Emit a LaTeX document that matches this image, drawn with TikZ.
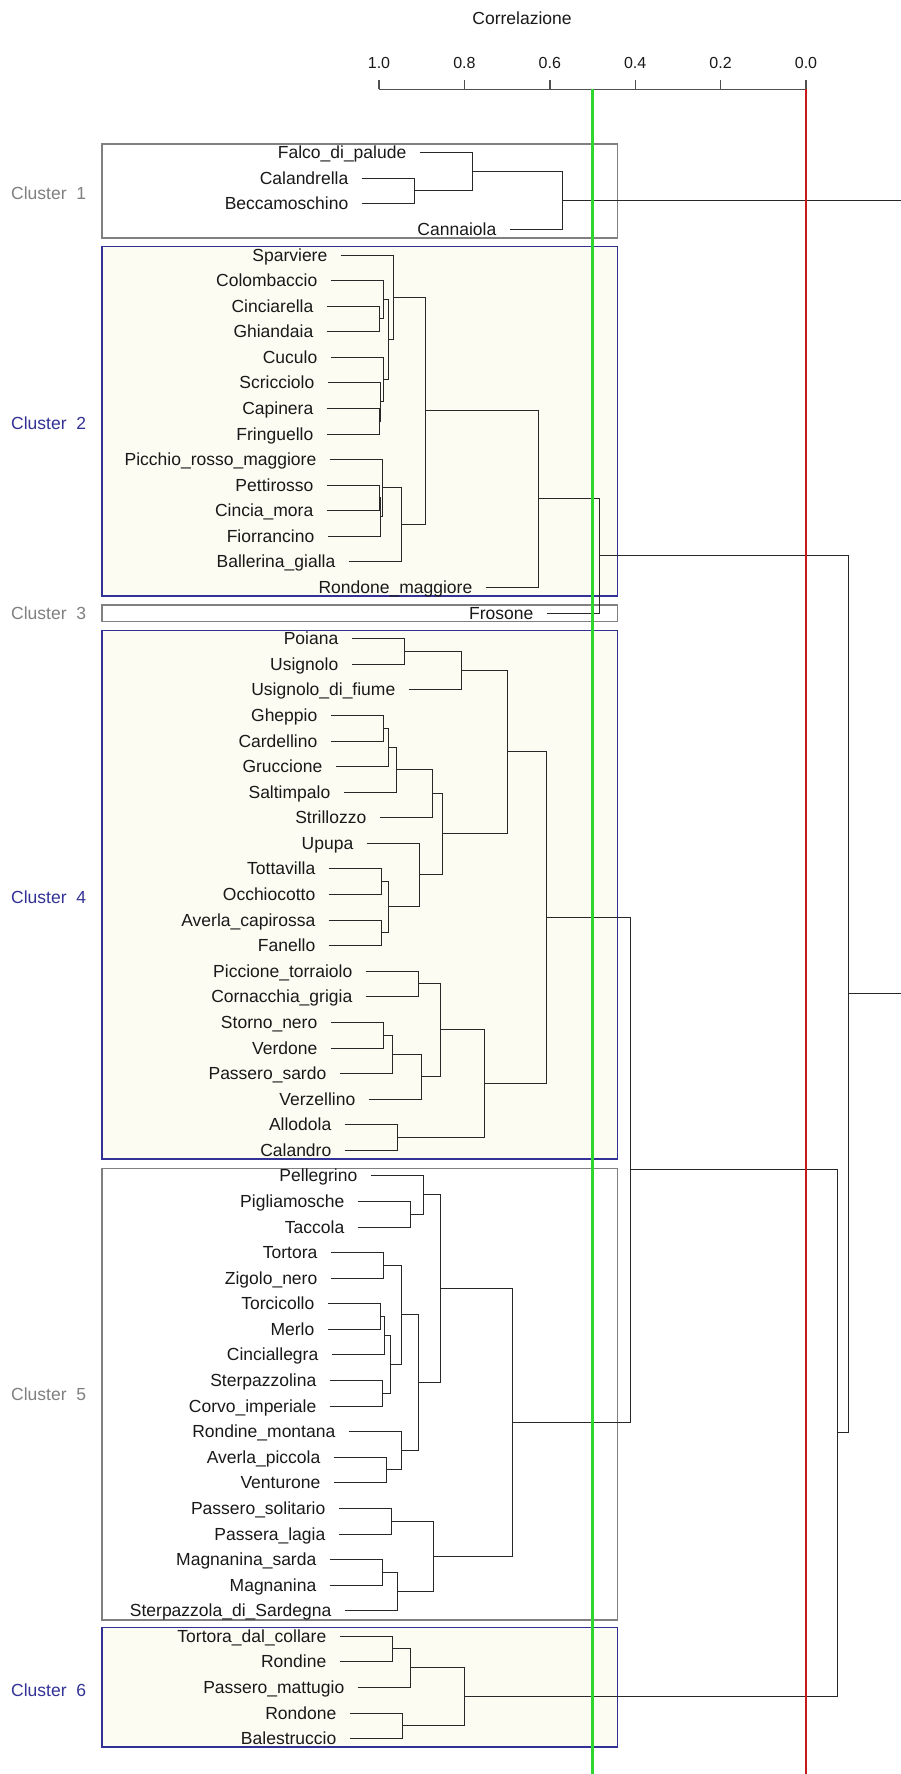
\documentclass[tikz,border=0pt]{standalone}
\usepackage{fontspec}
\setmainfont{Liberation Sans}
\usetikzlibrary{calc}
\definecolor{dgray}{RGB}{40,40,40}
\definecolor{agray}{RGB}{80,80,80}
\definecolor{bgray}{RGB}{128,128,128}
\definecolor{bblue}{RGB}{50,50,150}
\definecolor{cream}{RGB}{252,252,243}
\definecolor{vgreen}{RGB}{45,215,45}
\definecolor{vred}{RGB}{200,25,25}
\definecolor{txt}{RGB}{25,25,25}
\tikzset{
  dl/.style={draw=dgray, line width=1pt},
  lab/.style={font=\fontsize{17.5}{21}\selectfont, text=txt, inner sep=0pt, anchor=base east},
  clab/.style={font=\fontsize{17.5}{21}\selectfont, inner sep=0pt, anchor=base west},
  ticklab/.style={font=\fontsize{16}{19}\selectfont, text=txt, inner sep=0pt, anchor=base},
  gbox/.style={draw=bgray, fill=white, line width=1.2pt},
  bbox/.style={draw=bblue, fill=cream, line width=1.2pt},
  axisline/.style={draw=agray, line width=1.4pt},
  cutline/.style={line width=2.2pt},
}
\newcommand\bleaf[4]{%
  \coordinate (#1) at ({floor(#3-53)+0.5},{floor(152.7+25.58*#2)+0.5});
  \node[lab] (#1t) at ([xshift=-13pt,yshift=-6pt]#1) {#4};
}
\newcommand\bmerge[4]{%
  \path let \p1 = ($(#3)!.5!(#4)$), \n1 = {floor(\y1)+0.5}, \n2 = {floor(#2)+0.5} in (\n2,\n1) coordinate (#1);
  \draw[dl] (#3) -| (#1);
  \draw[dl] (#4) -| (#1);
}
\begin{document}
\begin{tikzpicture}[x=1pt,y=-1pt]
\useasboundingbox (0,0) rectangle (901,1774);
\fill[white] (0,0) rectangle (901,1774);
\clip (0,0) rectangle (901,1774);

% axis
\node[font=\fontsize{17.5}{21}\selectfont, text=txt, inner sep=0pt, anchor=base] (title) at (522,25) {Correlazione};
\coordinate (ax1) at (379,89.3);
\coordinate (ax0) at (806,89.3);
\draw[axisline] (ax1) -- (ax0);
\foreach \c/\n in {1.0/t10,0.8/t08,0.6/t06,0.4/t04,0.2/t02,0.0/t00}{
  \coordinate (\n) at ({806-427*\c},89.3);
  \draw[axisline] (\n) -- ++(0,-9.5);
  \node[ticklab] (\n l) at ([yshift=21pt]\n) {\c};
}

% cluster boxes
\draw[gbox] (102,144) rectangle (617.7,238);
\draw[bbox] (102,246.3) rectangle (617.7,596);
\draw[gbox] (102,605) rectangle (617.7,621.3);
\draw[bbox] (102,630.3) rectangle (617.7,1159);
\draw[gbox] (102,1168.3) rectangle (617.7,1620);
\draw[bbox] (102,1627.7) rectangle (617.7,1747);

\node[clab, text=bgray] (k1) at (11,199.6) {Cluster\ \ 1};
\node[clab, text=bblue] (k2) at (11,429) {Cluster\ \ 2};
\node[clab, text=bgray] (k3) at (11,619) {Cluster\ \ 3};
\node[clab, text=bblue] (k4) at (11,903.9) {Cluster\ \ 4};
\node[clab, text=bgray] (k5) at (11,1400.8) {Cluster\ \ 5};
\node[clab, text=bblue] (k6) at (11,1696.3) {Cluster\ \ 6};

% cluster 1
\bleaf{L0}{0}{472}{Falco\_di\_palude}
\bleaf{L1}{1}{414}{Calandrella}
\bleaf{L2}{2}{414}{Beccamoschino}
\bleaf{L3}{3}{562.7}{Cannaiola}
\bmerge{A2}{414}{L1}{L2}
\bmerge{A1}{472}{L0}{A2}
\bmerge{A3}{562.7}{A1}{L3}

% cluster 2
\bleaf{L4}{4}{393}{Sparviere}
\bleaf{L5}{5}{383.3}{Colombaccio}
\bleaf{L6}{6}{379}{Cinciarella}
\bleaf{L7}{7}{379}{Ghiandaia}
\bleaf{L8}{8}{383.3}{Cuculo}
\bleaf{L9}{9}{380.3}{Scricciolo}
\bleaf{L10}{10}{379}{Capinera}
\bleaf{L11}{11}{379}{Fringuello}
\bleaf{L12}{12}{382.3}{Picchio\_rosso\_maggiore}
\bleaf{L13}{13}{379}{Pettirosso}
\bleaf{L14}{14}{379}{Cincia\_mora}
\bleaf{L15}{15}{380}{Fiorrancino}
\bleaf{L16}{16}{401}{Ballerina\_gialla}
\bleaf{L17}{17}{538.4}{Rondone\_maggiore}
\bmerge{B1}{379}{L6}{L7}
\bmerge{B2}{383.3}{L5}{B1}
\bmerge{B3}{379}{L10}{L11}
\bmerge{B4}{380.3}{L9}{B3}
\bmerge{B5}{383.3}{L8}{B4}
\bmerge{B6}{388.3}{B2}{B5}
\bmerge{B7}{393}{L4}{B6}
\bmerge{B8}{379}{L13}{L14}
\bmerge{B9}{380}{B8}{L15}
\bmerge{B10}{382.3}{L12}{B9}
\bmerge{B11}{401}{B10}{L16}
\bmerge{B12}{425.7}{B7}{B11}
\bmerge{B13}{538.4}{B12}{L17}

% cluster 3
\bleaf{L18}{18}{599}{Frosone}
\bmerge{B14}{599}{B13}{L18}

% cluster 4
\bleaf{L19}{19}{404.3}{Poiana}
\bleaf{L20}{20}{404.3}{Usignolo}
\bleaf{L21}{21}{461.3}{Usignolo\_di\_fiume}
\bleaf{L22}{22}{383.7}{Gheppio}
\bleaf{L23}{23}{383.7}{Cardellino}
\bleaf{L24}{24}{388.7}{Gruccione}
\bleaf{L25}{25}{396.7}{Saltimpalo}
\bleaf{L26}{26}{432}{Strillozzo}
\bleaf{L27}{27}{419.7}{Upupa}
\bleaf{L28}{28}{381.3}{Tottavilla}
\bleaf{L29}{29}{381.3}{Occhiocotto}
\bleaf{L30}{30}{381.3}{Averla\_capirossa}
\bleaf{L31}{31}{381.3}{Fanello}
\bleaf{L32}{32}{418.7}{Piccione\_torraiolo}
\bleaf{L33}{33}{418.7}{Cornacchia\_grigia}
\bleaf{L34}{34}{383.3}{Storno\_nero}
\bleaf{L35}{35}{383.3}{Verdone}
\bleaf{L36}{36}{392.3}{Passero\_sardo}
\bleaf{L37}{37}{421}{Verzellino}
\bleaf{L38}{38}{397.7}{Allodola}
\bleaf{L39}{39}{397.7}{Calandro}
\bmerge{D1}{404.3}{L19}{L20}
\bmerge{D2}{461.3}{D1}{L21}
\bmerge{D3}{383.7}{L22}{L23}
\bmerge{D4}{388.7}{D3}{L24}
\bmerge{D5}{396.7}{D4}{L25}
\bmerge{D6}{432}{D5}{L26}
\bmerge{D7}{381.3}{L28}{L29}
\bmerge{D8}{381.3}{L30}{L31}
\bmerge{D9}{388.7}{D7}{D8}
\bmerge{D10}{419.7}{L27}{D9}
\bmerge{D11}{442}{D6}{D10}
\bmerge{D12}{507.7}{D2}{D11}
\bmerge{D13}{418.7}{L32}{L33}
\bmerge{D14}{383.3}{L34}{L35}
\bmerge{D15}{392.3}{D14}{L36}
\bmerge{D16}{421}{D15}{L37}
\bmerge{D17}{440.7}{D13}{D16}
\bmerge{D18}{397.7}{L38}{L39}
\bmerge{D19}{484.7}{D17}{D18}
\bmerge{D20}{546}{D12}{D19}

% cluster 5
\bleaf{L40}{40}{423}{Pellegrino}
\bleaf{L41}{41}{410}{Pigliamosche}
\bleaf{L42}{42}{410}{Taccola}
\bleaf{L43}{43}{383.7}{Tortora}
\bleaf{L44}{44}{383.7}{Zigolo\_nero}
\bleaf{L45}{45}{380}{Torcicollo}
\bleaf{L46}{46}{380}{Merlo}
\bleaf{L47}{47}{384.7}{Cinciallegra}
\bleaf{L48}{48}{382.3}{Sterpazzolina}
\bleaf{L49}{49}{382.3}{Corvo\_imperiale}
\bleaf{L50}{50}{401.3}{Rondine\_montana}
\bleaf{L51}{51}{386.7}{Averla\_piccola}
\bleaf{L52}{52}{386.7}{Venturone}
\bleaf{L53}{53}{391.3}{Passero\_solitario}
\bleaf{L54}{54}{391.3}{Passera\_lagia}
\bleaf{L55}{55}{382.3}{Magnanina\_sarda}
\bleaf{L56}{56}{382.3}{Magnanina}
\bleaf{L57}{57}{397.7}{Sterpazzola\_di\_Sardegna}
\bmerge{E1}{410}{L41}{L42}
\bmerge{E2}{423}{L40}{E1}
\bmerge{E3}{383.7}{L43}{L44}
\bmerge{E4}{380}{L45}{L46}
\bmerge{E5}{384.7}{E4}{L47}
\bmerge{E6}{382.3}{L48}{L49}
\bmerge{E7}{390}{E5}{E6}
\bmerge{E8}{401.3}{E3}{E7}
\bmerge{E9}{386.7}{L51}{L52}
\bmerge{E10}{401.3}{L50}{E9}
\bmerge{E11}{418.7}{E8}{E10}
\bmerge{E12}{440.7}{E2}{E11}
\bmerge{E13}{391.3}{L53}{L54}
\bmerge{E14}{382.3}{L55}{L56}
\bmerge{E15}{397.7}{E14}{L57}
\bmerge{E16}{433}{E13}{E15}
\bmerge{E17}{512}{E12}{E16}

% cluster 6
\bleaf{L58}{58}{392.3}{Tortora\_dal\_collare}
\bleaf{L59}{59}{392.3}{Rondine}
\bleaf{L60}{60}{410}{Passero\_mattugio}
\bleaf{L61}{61}{402.3}{Rondone}
\bleaf{L62}{62}{402.3}{Balestruccio}
\bmerge{F1}{392.3}{L58}{L59}
\bmerge{F2}{410}{F1}{L60}
\bmerge{F3}{402.3}{L61}{L62}
\bmerge{F4}{464.7}{F2}{F3}

% top level
\bmerge{G1}{630.3}{D20}{E17}
\bmerge{G2}{837.3}{G1}{F4}
\bmerge{G3}{848.3}{B14}{G2}
\bmerge{R}{915}{A3}{G3}

% cut lines
\coordinate (gb) at (592.5,1774);
\coordinate (gt) at (592.5,89.3);
\coordinate (rb) at (806,1774);
\draw[cutline, vgreen] (gt) -- (gb);
\draw[cutline, vred] (ax0) -- (rb);
\end{tikzpicture}
\end{document}
